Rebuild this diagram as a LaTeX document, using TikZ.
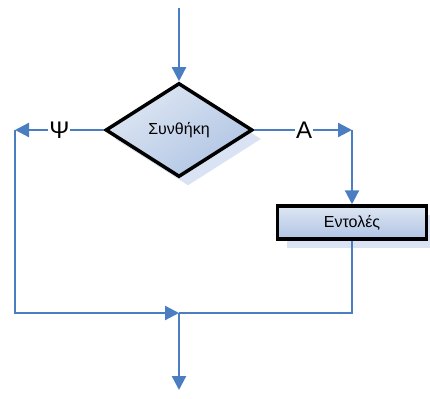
\documentclass[tikz,border=0pt]{standalone}
\usepackage{fontspec}
\setmainfont{Liberation Sans}
\usetikzlibrary{arrows.meta,shapes.geometric,shadows}
\definecolor{flowblue}{RGB}{74,126,193}
\definecolor{shadowblue}{RGB}{218,227,243}
\definecolor{fillhi}{RGB}{222,231,243}
\definecolor{filllo}{RGB}{176,196,228}
\tikzset{
  flow/.style={draw=flowblue, line width=2.3pt},
  tip/.style={-{Triangle[length=14pt,width=14pt]}},
  decision/.style={shape=diamond, draw=black, line width=3.5pt, inner sep=0pt,
    minimum width=147pt, minimum height=94pt,
    top color=fillhi, bottom color=filllo, shading angle=35,
    drop shadow={shadow xshift=9pt, shadow yshift=-9pt, fill=shadowblue, opacity=1},
    font=\fontsize{16}{18}\selectfont},
  process/.style={shape=rectangle, draw=black, line width=3.5pt, inner sep=0pt,
    minimum width=149pt, minimum height=33pt,
    top color=fillhi, bottom color=filllo,
    drop shadow={shadow xshift=9pt, shadow yshift=-9pt, fill=shadowblue, opacity=1},
    font=\fontsize{16}{18}\selectfont},
  branch/.style={fill=white, inner sep=1pt, font=\fontsize{24}{26}\selectfont}
}
\begin{document}
\begin{tikzpicture}[x=1pt,y=-1pt]
  \useasboundingbox (0,0) rectangle (430,398);
  % shapes
  \node[decision] (cond) at (179,130) {Συνθήκη};
  \node[process] (cmds) at (352,222.5) {Εντολές};
  % free ends and corners
  \coordinate (top) at (179,8);
  \coordinate (left) at (15,130);
  \coordinate (right) at (352,130);
  \coordinate (join) at (179,313);
  \coordinate (bottom) at (179,390);
  % connectors
  \draw[flow,tip] (top) -- (cond.north);
  \draw[flow,tip] (cond.west) -- node[branch, pos=0.5] {Ψ} (left);
  \draw[flow,tip] (cond.east) -- node[branch, pos=0.51] {Α} (right);
  \draw[flow,tip] (right) -- (cmds.north);
  \draw[flow,tip] (left) |- (join);
  \draw[flow] (cmds.south) |- (join);
  \draw[flow,tip] (join) -- (bottom);
\end{tikzpicture}
\end{document}
